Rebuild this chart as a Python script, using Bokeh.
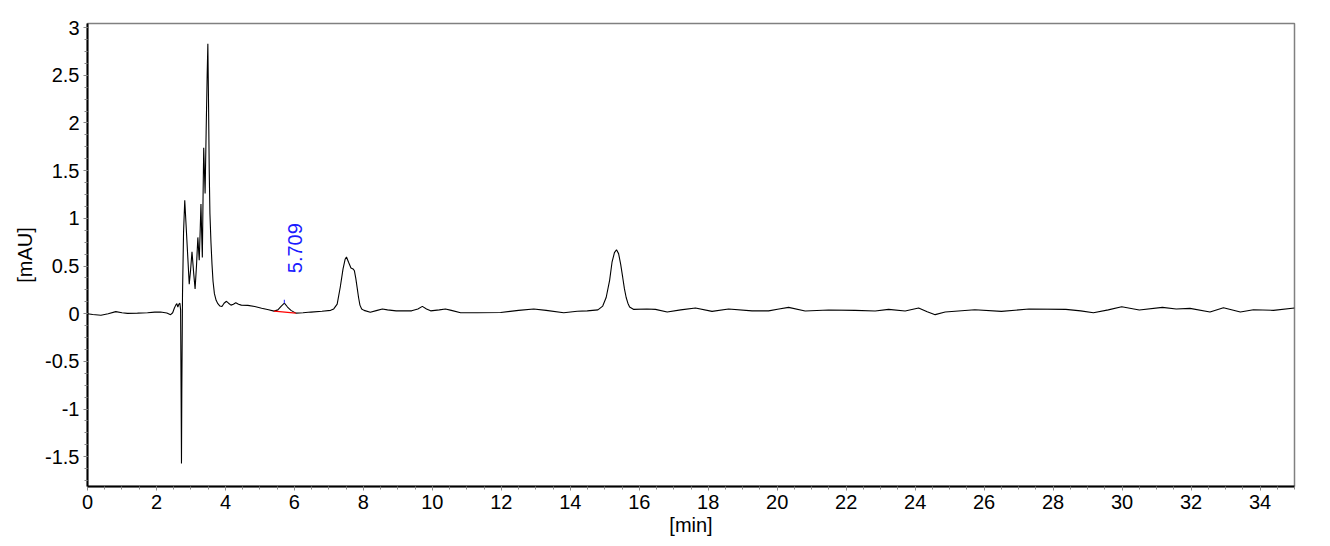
from bokeh.plotting import figure
from bokeh.models import Range1d, SingleIntervalTicker, CustomJSTickFormatter
from bokeh.core.properties import value
from bokeh.embed import file_html
from bokeh.resources import INLINE

time_min = [0.00, 0.15, 0.39, 0.60, 0.82, 1.00, 1.16, 1.45, 1.74, 1.95, 2.12, 2.30, 2.41, 2.47, 2.52,
            2.56, 2.59, 2.62, 2.65, 2.68, 2.70, 2.715, 2.725, 2.735, 2.755, 2.785, 2.82, 2.86, 2.91,
            2.95, 2.99, 3.03, 3.08, 3.12, 3.16, 3.20, 3.24, 3.27, 3.29, 3.31, 3.33, 3.35, 3.37, 3.39,
            3.41, 3.44, 3.47, 3.49, 3.51, 3.53, 3.55, 3.58, 3.61, 3.64, 3.68, 3.73, 3.78, 3.84, 3.90,
            3.96, 4.03, 4.09, 4.16, 4.23, 4.30, 4.38, 4.46, 4.65, 4.85, 5.05, 5.25, 5.41, 5.52, 5.62,
            5.709, 5.80, 5.90, 6.04, 6.25, 6.48, 6.80, 7.05, 7.14, 7.24, 7.33, 7.41, 7.47, 7.51, 7.57,
            7.64, 7.70, 7.74, 7.78, 7.82, 7.86, 7.90, 7.95, 8.02, 8.20, 8.40, 8.55, 8.70, 8.95, 9.20,
            9.40, 9.58, 9.71, 9.83, 9.95, 10.20, 10.38, 10.55, 10.82, 11.30, 11.98, 12.50, 12.94,
            13.30, 13.81, 14.20, 14.49, 14.80, 14.94, 15.04, 15.14, 15.21, 15.28, 15.34, 15.40, 15.46,
            15.52, 15.57, 15.62, 15.67, 15.72, 15.84, 16.22, 16.47, 16.81, 17.20, 17.63, 18.11, 18.59,
            19.27, 19.75, 20.05, 20.33, 20.81, 21.49, 22.26, 22.84, 23.23, 23.71, 24.10, 24.35, 24.58,
            24.87, 25.73, 26.50, 27.30, 28.37, 28.80, 29.17, 29.60, 29.99, 30.50, 31.17, 31.57, 31.97,
            32.55, 32.94, 33.43, 33.81, 34.39, 35.00]
signal_mau = [0.000, -0.008, -0.017, 0.000, 0.022, 0.010, 0.003, 0.006, 0.010, 0.016, 0.017, 0.008, -0.010, 0.010, 0.060,
              0.090, 0.105, 0.070, 0.100, 0.110, 0.040, -0.90, -1.57, -0.80, 0.20, 0.85, 1.19, 0.92, 0.58,
              0.31, 0.46, 0.65, 0.42, 0.26, 0.50, 0.80, 0.56, 0.90, 1.15, 0.85, 0.59, 1.20, 1.74, 1.50,
              1.26, 1.90, 2.50, 2.83, 2.20, 1.50, 1.05, 0.75, 0.52, 0.34, 0.21, 0.14, 0.105, 0.080, 0.075,
              0.110, 0.130, 0.110, 0.090, 0.100, 0.115, 0.100, 0.090, 0.087, 0.075, 0.058, 0.042, 0.027, 0.040, 0.080,
              0.110, 0.070, 0.035, 0.006, 0.010, 0.017, 0.025, 0.035, 0.050, 0.100, 0.280, 0.470, 0.570, 0.595, 0.540,
              0.480, 0.470, 0.450, 0.370, 0.270, 0.170, 0.090, 0.050, 0.035, 0.015, 0.035, 0.050, 0.040, 0.030, 0.030,
              0.030, 0.050, 0.077, 0.050, 0.030, 0.040, 0.050, 0.035, 0.010, 0.010, 0.012, 0.035, 0.050,
              0.035, 0.010, 0.025, 0.030, 0.040, 0.080, 0.170, 0.350, 0.540, 0.640, 0.670, 0.630, 0.520,
              0.380, 0.260, 0.170, 0.110, 0.070, 0.045, 0.050, 0.045, 0.017, 0.040, 0.060, 0.024, 0.049,
              0.030, 0.030, 0.050, 0.066, 0.028, 0.038, 0.035, 0.028, 0.045, 0.028, 0.059, 0.020, -0.010,
              0.017, 0.042, 0.024, 0.049, 0.045, 0.030, 0.010, 0.040, 0.073, 0.038, 0.066, 0.049, 0.056,
              0.017, 0.063, 0.017, 0.042, 0.035, 0.060]

# integrated peak
peak_rt = [5.709]
peak_height = [0.110]
peak_label = ["5.709"]
base_start = [5.41, 0.027]
base_end = [6.04, 0.006]

p = figure(width=1328, height=544, output_backend="svg", toolbar_location=None,
           x_range=Range1d(0, 35), y_range=Range1d(-1.812, 3.043),
           min_border_left=87, min_border_right=34, min_border_top=23, min_border_bottom=58)
p.xgrid.visible = False
p.ygrid.visible = False
p.outline_line_color = "#808080"
p.outline_line_width = 1.5
p.background_fill_color = "white"
p.border_fill_color = "white"

p.line(time_min, signal_mau, line_color="black", line_width=1.1)
p.segment(x0=[base_start[0]], y0=[base_start[1]], x1=[base_end[0]], y1=[base_end[1]],
          line_color="red", line_width=1.2)
p.segment(x0=peak_rt, y0=peak_height, x1=peak_rt, y1=[h + 0.035 for h in peak_height],
          line_color="#4040ff", line_width=1.2)
p.text(x=peak_rt, y=peak_height, text=peak_label, angle=1.5708, text_color="#1a1aff",
       text_font=value("Liberation Sans"), text_font_size="20px", text_align="left",
       text_baseline="alphabetic", x_offset=11, y_offset=-30)

p.xaxis.ticker = SingleIntervalTicker(interval=2, num_minor_ticks=4)
p.yaxis.ticker = SingleIntervalTicker(interval=0.5, num_minor_ticks=4)
p.xaxis.formatter = CustomJSTickFormatter(code="return String(Math.round(tick));")
p.yaxis.formatter = CustomJSTickFormatter(code="return String(Math.round(tick * 10) / 10);")
p.xaxis.axis_label = "[min]"
p.yaxis.axis_label = "[mAU]"
for ax in (p.xaxis, p.yaxis):
    ax.axis_line_color = "black"
    ax.axis_line_width = 2
    ax.major_tick_line_color = "#888888"
    ax.minor_tick_line_color = "#888888"
    ax.major_tick_in = 0
    ax.minor_tick_in = 0
    ax.major_tick_out = 4
    ax.minor_tick_out = 3
    ax.major_label_standoff = 4
    ax.major_label_text_font = "Liberation Sans"
    ax.major_label_text_font_size = "20px"
    ax.major_label_text_color = "black"
    ax.axis_label_text_font = "Liberation Sans"
    ax.axis_label_text_font_size = "20px"
    ax.axis_label_text_font_style = "normal"
    ax.axis_label_text_color = "black"
p.yaxis.axis_label_standoff = 6
p.xaxis.axis_label_standoff = 2

open("out.html", "w").write(file_html(p, INLINE))
